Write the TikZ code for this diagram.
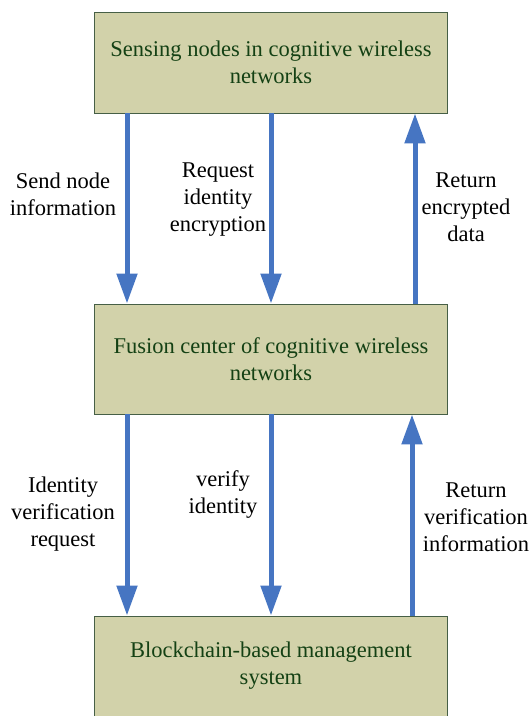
\documentclass[tikz,border=0pt]{standalone}
\usepackage{fontspec}
\setmainfont{Liberation Serif}
\usetikzlibrary{arrows.meta}
\definecolor{boxfill}{RGB}{210,210,170}
\definecolor{boxedge}{RGB}{70,95,70}
\definecolor{boxtext}{RGB}{20,65,20}
\definecolor{flowblue}{RGB}{70,117,194}
\tikzset{
  x=1pt, y=-1pt,
  stage/.style={draw=boxedge, line width=0.9pt, fill=boxfill, text=boxtext,
    minimum width=353pt, align=center, inner sep=0pt,
    font=\fontsize{22.5}{27}\selectfont},
  flow/.style={draw=flowblue, line width=5pt,
    -{Triangle[width=20pt,length=30pt]}},
  tag/.style={align=center, inner sep=0pt, text=black,
    font=\fontsize{22.5}{27}\selectfont}
}
\begin{document}
\begin{tikzpicture}
\useasboundingbox (0,0) rectangle (531,716);
\begin{scope}
\clip (0,0) rectangle (531,716);
% the three stages
\node[stage, minimum height=101pt] (sense) at (271,62.5)
  {Sensing nodes in cognitive wireless\\networks};
\node[stage, minimum height=110pt] (fusion) at (271,359)
  {Fusion center of cognitive wireless\\networks};
\node[stage, minimum height=104pt] (chain) at (271,668) {};
\node[tag, text=boxtext] (chaintext) at (271,666)
  {Blockchain-based management\\system};
% flows between the sensing nodes and the fusion center
\draw[flow] ([xshift=-144pt]sense.south) -- ([xshift=-144pt]fusion.north);
\draw[flow] (sense.south) -- (fusion.north);
\draw[flow] ([xshift=144pt]fusion.north) -- ([xshift=144pt]sense.south);
% flows between the fusion center and the blockchain system
\draw[flow] ([xshift=-144pt]fusion.south) -- ([xshift=-144pt]chain.north);
\draw[flow] (fusion.south) -- (chain.north);
\draw[flow] ([xshift=141pt]chain.north) -- ([xshift=141pt]fusion.south);
\end{scope}
% labels of the flows
\node[tag] (l1) at (63,194) {Send node\\information};
\node[tag] (l2) at (218,200) {Request\\identity\\encryption};
\node[tag] (l3) at (466,207) {Return\\encrypted\\data};
\node[tag] (l4) at (63,514) {Identity\\verification\\request};
\node[tag] (l5) at (223,494) {verify\\identity};
\node[tag] (l6) at (476,517) {Return\\verification\\information};
\end{tikzpicture}
\end{document}
